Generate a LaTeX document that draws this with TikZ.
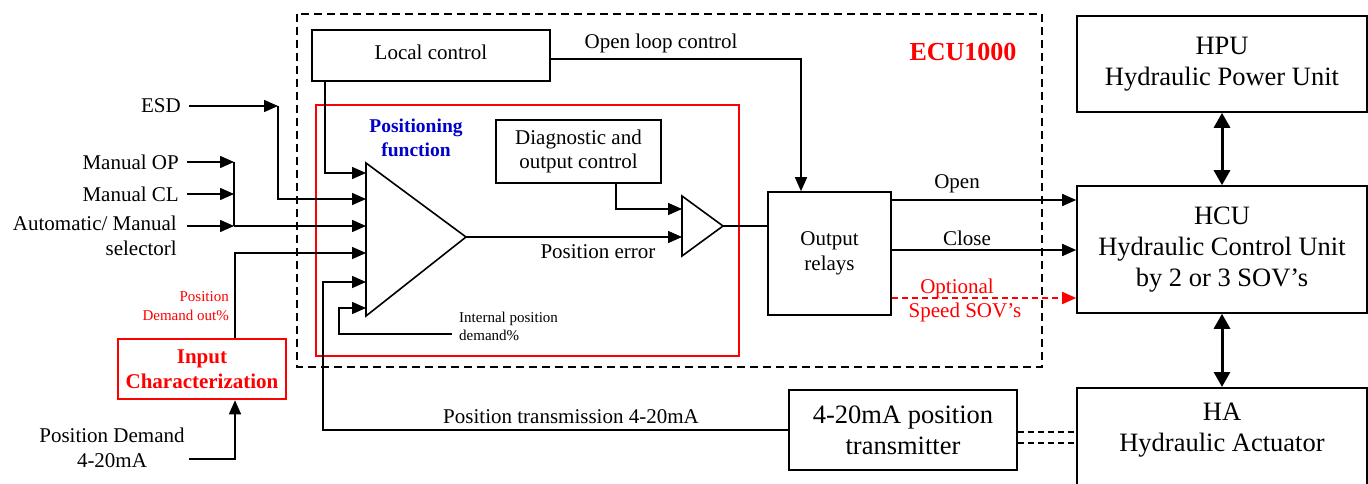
\documentclass[tikz,border=0pt]{standalone}
\usepackage{fontspec}
\setmainfont{Liberation Serif}
\usetikzlibrary{arrows.meta}
\newcommand\fsz[2]{\fontsize{#1}{#2}\selectfont}
\definecolor{fnblue}{rgb}{0,0,0.8}
\begin{document}
\begin{tikzpicture}[x=1pt,y=-1pt,
  box/.style={draw, line width=1.6pt, inner sep=0pt, align=center},
  wire/.style={line width=1.6pt},
  arr/.style={wire, -{Triangle[length=14pt,width=12pt]}},
  dbl/.style={line width=3pt, {Triangle[length=15pt,width=16pt]}-{Triangle[length=15pt,width=16pt]}},
  mid/.style={font=\fsz{21}{24.5}, align=center, inner sep=0pt},
  big/.style={font=\fsz{26.5}{31}, align=center, inner sep=0pt},
  small/.style={font=\fsz{15}{18.5}, inner sep=0pt},
  dashwire/.style={line width=1.5pt, dash pattern=on 6pt off 4pt}]
\useasboundingbox (0,0) rectangle (1368,484);

% ---- controller enclosure and positioning block frame ----
\draw[line width=1.5pt, dash pattern=on 8pt off 5pt] (297,14) rectangle (1042,367);
\node[font=\bfseries\fsz{26}{30}, text=red, inner sep=0pt] (ecu) at (963,52) {ECU1000};
\draw[red, line width=1.6pt] (316,105) rectangle (739,356);
\node[font=\bfseries\fsz{19.5}{24}, text=fnblue, align=center, inner sep=0pt] (posfn) at (416,138) {Positioning\\function};

% ---- blocks ----
\node[box, minimum width=238, minimum height=51] (local) at (431,55.5) {};
\node[mid] (localtext) at (431,52) {Local control};
\node[box, mid, minimum width=165, minimum height=63] (diag) at (578.5,151.5) {Diagnostic and\\output control};
\node[box, mid, minimum width=123, minimum height=123] (relays) at (829.5,253.5) {Output\\relays};
\node[box, big, minimum width=290, minimum height=96] (hpu) at (1222,64) {HPU\\Hydraulic Power Unit};
\node[box, big, minimum width=290, minimum height=127] (hcu) at (1222,249.5) {HCU\\Hydraulic Control Unit\\by 2 or 3 SOV’s};
\node[box, minimum width=290, minimum height=120, anchor=north] (ha) at (1222,387) {};
\node[big] (hatext) at (1222,430) {HA\\Hydraulic Actuator};
\node[box, big, minimum width=228, minimum height=80] (tx) at (903,430) {4-20mA position\\transmitter};
\node[draw=red, line width=2.6pt, text=red, font=\bfseries\fsz{21}{25}, align=center, inner sep=0pt,
      minimum width=168, minimum height=60] (inchar) at (202,369) {Input\\Characterization};

% ---- comparator and output amplifier ----
\coordinate (a1) at (366,163);
\coordinate (a2) at (366,316);
\coordinate (ao) at (466,237);
\draw[wire] (a1) -- (a2) -- (ao) -- cycle;
\foreach \n/\yy in {1/173,2/199,3/226,4/253,5/282,6/308}
  \coordinate (in\n) at (366,\yy);
\coordinate (b1) at (682,196);
\coordinate (b2) at (682,256);
\coordinate (bo) at (723,226);
\draw[wire] (b1) -- (b2) -- (bo) -- cycle;
\coordinate (bin1) at (682,209);
\coordinate (bin2) at (682,237);

% ---- external inputs ----
\node[mid, anchor=east] (esd) at (181,106) {ESD};
\node[mid, anchor=east] (mop) at (179,162) {Manual OP};
\node[mid, anchor=east] (mcl) at (179,194) {Manual CL};
\node[mid, anchor=east, align=right] (sel) at (177,236) {Automatic/ Manual\\selectorl};
\node[mid] (pdem) at (112,448) {Position Demand\\4-20mA};
\node[small, text=red, anchor=east, align=right] (pdout) at (229,306) {Position\\Demand out\%};

\coordinate (esdk) at (278,106);
\draw[arr] (189,106) coordinate (esdL) -- (esdk);
\draw[arr] (esdk) |- (in2);
\coordinate (mopk) at (234,162);
\coordinate (mclk) at (234,194);
\coordinate (selk) at (234,226);
\draw[arr] (187,162) coordinate (mopL) -- (mopk);
\draw[arr] (187,194) coordinate (mclL) -- (mclk);
\draw[arr] (187,226) coordinate (selL) -- (selk);
\draw[wire] (mopk) -- (selk);
\draw[arr] (selk) -- (in3);

% position demand path
\coordinate (pdin) at (189,459);
\draw[arr] (pdin) -| (inchar.south -| 235,0);
\draw[arr] (inchar.north -| 235,0) |- (in4);

% local control and feedback loops
\draw[arr] (local.south -| 325,0) |- (in1);
\draw[arr] (tx.west) -| (323,282) -- (in5);
\coordinate (intd) at (452,334);
\draw[arr] (intd) -| (339,308) -- (in6);
\node[small, anchor=west, align=left] (intlbl) at (459,326.5) {Internal position\\demand\%};

% positioning error to output stage
\draw[arr] (ao) -- (bin2);
\node[mid] (perr) at (598,252) {Position error};
\draw[arr] (diag.south -| 616,0) |- (bin1);
\draw[wire] (bo) -- (bo -| relays.west);

% open loop control
\coordinate (olc) at (801,59);
\draw[arr] (local.east |- olc) -- (olc) -- (olc |- relays.north);
\node[mid] (olclbl) at (661,43) {Open loop control};

% relay outputs
\draw[arr] (relays.east |- 0,200) -- (hcu.west |- 0,200);
\node[mid] (openlbl) at (957,184) {Open};
\draw[arr] (relays.east |- 0,250) -- (hcu.west |- 0,250);
\node[mid] (closelbl) at (967,238) {Close};
\draw[red, line width=1.6pt, dash pattern=on 6pt off 4pt, -{Triangle[length=14pt,width=12pt]}]
  (relays.east |- 0,298) -- (hcu.west |- 0,298);
\node[mid, text=red] (optlbl) at (957,288) {Optional};
\node[mid, text=red] (spdlbl) at (965,312) {Speed SOV’s};

% hydraulic links
\draw[dbl] (hpu.south) -- (hcu.north);
\draw[dbl] (hcu.south) -- (ha.north);
\draw[dashwire] (tx.east |- 0,432) -- (ha.west |- 0,432);
\draw[dashwire] (tx.east |- 0,443) -- (ha.west |- 0,443);

% position transmission label
\node[mid] (ptlbl) at (571,417) {Position transmission 4-20mA};
\end{tikzpicture}
\end{document}
